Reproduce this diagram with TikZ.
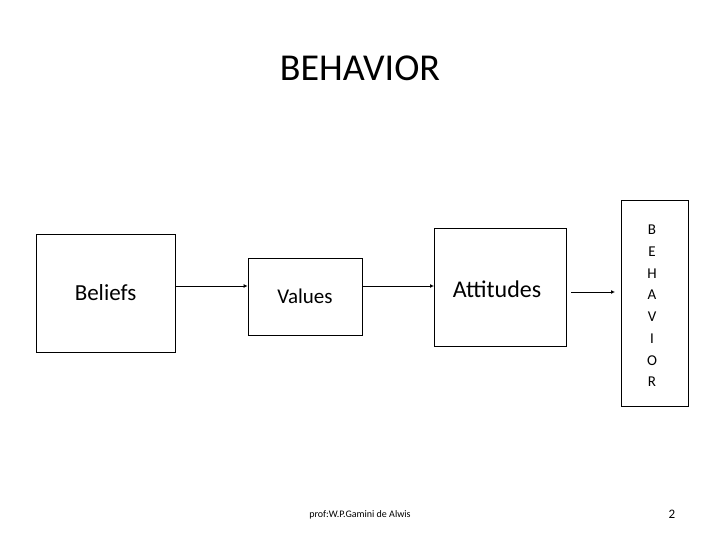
\documentclass[tikz,border=0pt]{standalone}
\usepackage{fontspec}
\setmainfont{Carlito}
\usetikzlibrary{arrows.meta,positioning}

\begin{document}
\begin{tikzpicture}[x=1pt, y=-1pt,
  box/.style={draw, thick, inner sep=0pt, align=center},
  arr/.style={-{Latex[length=4pt,width=4pt]}, thick},
  txt/.style={inner sep=0pt}
]
\useasboundingbox (0,0) rectangle (720,540);

\node[txt, font=\fontsize{38}{40}\selectfont] (title) at (360,68) {BEHAVIOR};

\node[box, minimum width=139pt, minimum height=118pt, font=\fontsize{23}{26}\selectfont] (beliefs) at (105.5,293) {Beliefs};
\node[box, minimum width=114pt, minimum height=77pt, font=\fontsize{21}{24}\selectfont] (values) at (305,296.5) {Values};
\node[box, minimum width=132pt, minimum height=118pt, anchor=north west] (attbox) at (434,228) {};
\node[txt, font=\fontsize{24}{26}\selectfont] (attitudes) at (497,289) {Attitudes};
\node[box, minimum width=67pt, minimum height=206pt, anchor=north west] (behbox) at (621,200) {};
\node[txt, align=center, font=\fontsize{15}{21.7}\selectfont] (behavior) at (652,306) {B\\E\\H\\A\\V\\I\\O\\R};

\draw[arr] (beliefs.east |- 0,286) -- (values.west |- 0,286);
\draw[arr] (values.east |- 0,286) -- (attbox.west |- 0,286);
\coordinate (a3s) at (571,292);
\coordinate (a3e) at (behbox.west |- a3s);
\draw[arr] (a3s) -- ([xshift=-6pt]a3e);

\node[txt, font=\fontsize{10}{12}\selectfont] (author) at (360,515) {prof:W.P.Gamini de Alwis};
\node[txt, font=\fontsize{13}{14}\selectfont] (page) at (672,514) {2};
\end{tikzpicture}
\end{document}
